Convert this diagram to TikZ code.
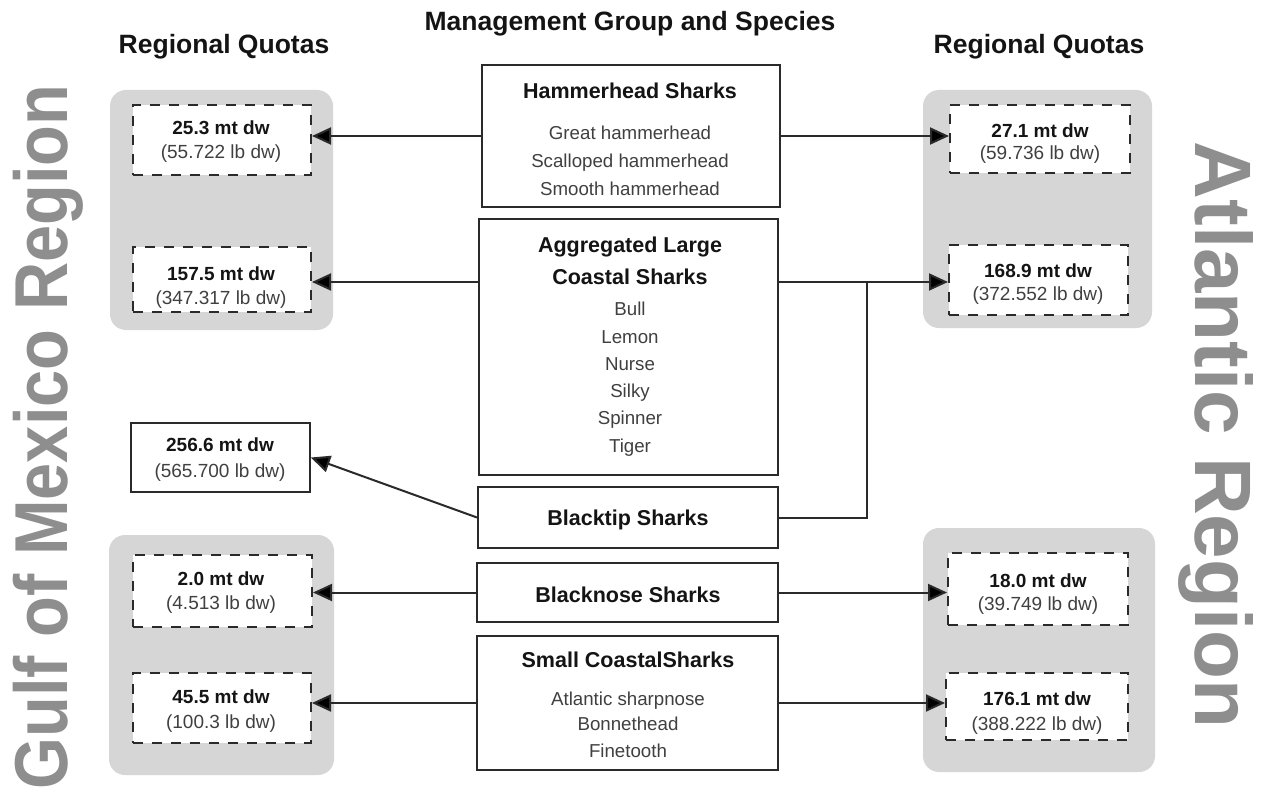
\documentclass[tikz,border=0pt]{standalone}
\usepackage{fontspec}
\setmainfont{Liberation Sans}
\newfontfamily\narrowfont[FakeStretch=0.89]{Liberation Sans}
\usetikzlibrary{arrows.meta}
\definecolor{panelgray}{HTML}{D6D6D6}
\definecolor{biggray}{HTML}{8E8E8E}
\definecolor{linec}{HTML}{2A2A2A}
\definecolor{txtreg}{HTML}{404040}
\definecolor{txtbold}{HTML}{141414}
\begin{document}
\begin{tikzpicture}[x=1pt,y=-1pt,
 panel/.style={fill=panelgray, rounded corners=16pt, inner sep=0pt, draw=none},
 quota/.style={draw=linec, line width=2pt, dash pattern=on 10pt off 9pt, fill=white, inner sep=0pt},
 solidq/.style={draw=linec, line width=1.8pt, fill=white, inner sep=0pt},
 groupbox/.style={draw=linec, line width=2pt, fill=white, inner sep=0pt},
 qb/.style={anchor=base, inner sep=0pt, font=\fontsize{19}{22}\selectfont\bfseries, text=txtbold},
 qreg/.style={anchor=base, inner sep=0pt, font=\fontsize{19}{22}\selectfont, text=txtreg},
 gh/.style={anchor=base, inner sep=0pt, font=\fontsize{21.5}{24}\selectfont\bfseries, text=txtbold},
 sp/.style={anchor=base, inner sep=0pt, font=\fontsize{18.7}{22}\selectfont, text=txtreg},
 head/.style={anchor=base, inner sep=0pt, font=\fontsize{26.5}{30}\selectfont\bfseries, text=txtbold},
 arr/.style={draw=linec, line width=2pt, -{Triangle[length=19pt,width=17pt,fill=black]}},
 link/.style={draw=linec, line width=2pt},
]
\useasboundingbox[fill=white] (0,0) rectangle (1263,794);

% big region labels
\node[rotate=90, inner sep=0pt, text=biggray, font=\narrowfont\fontsize{75}{80}\selectfont\bfseries] (gulf) at (48,437) {Gulf of Mexico Region};
\node[rotate=-90, inner sep=0pt, text=biggray, font=\fontsize{80}{84}\selectfont\bfseries] (atl) at (1216,435) {Atlantic Region};

% headings
\node[head] (title) at (630,31) {Management Group and Species};
\node[head] (rql) at (224,54) {Regional Quotas};
\node[head] (rqr) at (1039,54) {Regional Quotas};

% panels
\node[panel, minimum width=223pt, minimum height=240pt] (gl1) at (221.5,210) {};
\node[panel, minimum width=225pt, minimum height=240pt] (gl2) at (221.5,655) {};
\node[panel, minimum width=229pt, minimum height=238pt] (gr1) at (1037.5,209) {};
\node[panel, minimum width=232pt, minimum height=244pt] (gr2) at (1039,650) {};

% quota boxes
\node[quota, minimum width=178pt, minimum height=70pt] (ql1) at (222,140) {};
\node[quota, minimum width=178pt, minimum height=65pt] (ql2) at (222,279.5) {};
\node[quota, minimum width=179pt, minimum height=72pt] (ql3) at (222.5,591) {};
\node[quota, minimum width=178pt, minimum height=70pt] (ql4) at (222,708) {};
\node[quota, minimum width=180pt, minimum height=68pt] (qr1) at (1040,139) {};
\node[quota, minimum width=179pt, minimum height=70pt] (qr2) at (1038.5,280) {};
\node[quota, minimum width=180pt, minimum height=72pt] (qr3) at (1038,589) {};
\node[quota, minimum width=182pt, minimum height=67pt] (qr4) at (1037,706.5) {};
\node[solidq, minimum width=179pt, minimum height=69pt] (btq) at (220.5,457.5) {};

\node[qb] (ql1a) at (221,135) {25.3 mt dw};
\node[qreg] (ql1b) at (221,159) {(55.722 lb dw)};
\node[qb] (ql2a) at (221,280) {157.5 mt dw};
\node[qreg] (ql2b) at (221,304) {(347.317 lb dw)};
\node[qb] (ql3a) at (221,585) {2.0 mt dw};
\node[qreg] (ql3b) at (221,609) {(4.513 lb dw)};
\node[qb] (ql4a) at (221,703) {45.5 mt dw};
\node[qreg] (ql4b) at (221,728) {(100.3 lb dw)};
\node[qb] (qr1a) at (1040,138) {27.1 mt dw};
\node[qreg] (qr1b) at (1040,160) {(59.736 lb dw)};
\node[qb] (qr2a) at (1038,277) {168.9 mt dw};
\node[qreg] (qr2b) at (1038,300) {(372.552 lb dw)};
\node[qb] (qr3a) at (1038,587) {18.0 mt dw};
\node[qreg] (qr3b) at (1038,610) {(39.749 lb dw)};
\node[qb] (qr4a) at (1037,705) {176.1 mt dw};
\node[qreg] (qr4b) at (1037,730) {(388.222 lb dw)};
\node[qb] (btqa) at (220,451) {256.6 mt dw};
\node[qreg] (btqb) at (220,477) {(565.700 lb dw)};

% group boxes
\node[groupbox, minimum width=298pt, minimum height=142pt] (hh) at (631,136) {};
\node[groupbox, minimum width=299pt, minimum height=256pt] (alc) at (628.5,347) {};
\node[groupbox, minimum width=300pt, minimum height=61pt] (bt) at (628,517.5) {};
\node[groupbox, minimum width=301pt, minimum height=59pt] (bn) at (627.5,592.5) {};
\node[groupbox, minimum width=301pt, minimum height=134pt] (sc) at (627.5,703) {};

\node[gh] (hh0) at (630,99) {Hammerhead Sharks};
\node[sp] (hh1) at (630,140) {Great hammerhead};
\node[sp] (hh2) at (630,168) {Scalloped hammerhead};
\node[sp] (hh3) at (630,196) {Smooth hammerhead};

\node[gh] (alc0) at (630,253) {Aggregated Large};
\node[gh] (alc0b) at (630,284) {Coastal Sharks};
\node[sp] (alc1) at (630,316) {Bull};
\node[sp] (alc2) at (630,343) {Lemon};
\node[sp] (alc3) at (630,370) {Nurse};
\node[sp] (alc4) at (630,397) {Silky};
\node[sp] (alc5) at (630,424) {Spinner};
\node[sp] (alc6) at (630,452) {Tiger};

\node[gh] (bt0) at (628,525) {Blacktip Sharks};
\node[gh] (bn0) at (628,602) {Blacknose Sharks};

\node[gh] (sc0) at (628,667) {Small CoastalSharks};
\node[sp] (sc1) at (628,705) {Atlantic sharpnose};
\node[sp] (sc2) at (628,730) {Bonnethead};
\node[sp] (sc3) at (628,757) {Finetooth};

% connectors
\coordinate (j) at (867,282);
\draw[arr] (hh.west) -- (hh.west -| ql1.east);
\draw[arr] (hh.east) -- (hh.east -| qr1.west);
\draw[arr] (alc.west |- 0,282) -- (ql2.east |- 0,282);
\draw[arr] (alc.east |- 0,282) -- (qr2.west |- 0,282);
\draw[link] (bt.east) -| (j);
\draw[arr] (bt.west) -- (btq.east);
\draw[arr] (bn.west) -- (bn.west -| ql3.east);
\draw[arr] (bn.east) -- (bn.east -| qr3.west);
\draw[arr] (sc.west) -- (sc.west -| ql4.east);
\draw[arr] (sc.east) -- (sc.east -| qr4.west);
\end{tikzpicture}
\end{document}
